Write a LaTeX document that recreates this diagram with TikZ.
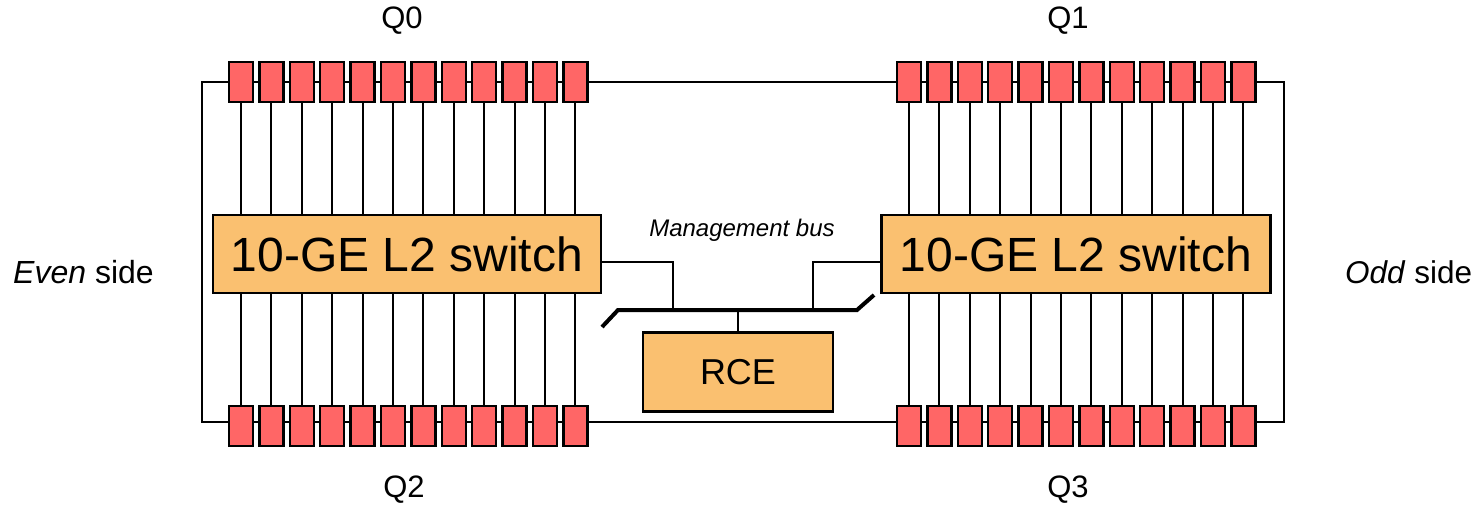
\documentclass[tikz,border=0pt]{standalone}
\usepackage{fontspec}
\setmainfont{Liberation Sans}
\usetikzlibrary{positioning}
\definecolor{portred}{RGB}{255,102,102}
\definecolor{swfill}{RGB}{250,192,112}
\tikzset{port/.style = {draw, fill = portred, line width = 2.5, inner sep = 0,
                        minimum width = 24, minimum height = 40}}
\tikzset{swbox/.style = {draw, fill = swfill, line width = 2.5, inner sep = 0}}
\tikzset{wire/.style = {line width = 2}}
\tikzset{bus/.style = {line width = 4}}

\begin{document}
\begin{tikzpicture}[x = 1pt, y = -1pt]
      \useasboundingbox (0, 0) rectangle (1478, 506);
      \foreach \i in {1, ..., 12} {
        \node [port] (q0-\i) at ({241 + 30.4*(\i - 1)}, 82) {};
        \node [port] (q2-\i) at ({241 + 30.4*(\i - 1)}, 426) {};
        \node [port] (q1-\i) at ({909 + 30.4*(\i - 1)}, 82) {};
        \node [port] (q3-\i) at ({909 + 30.4*(\i - 1)}, 426) {};
      }
      \foreach \i in {1, ..., 12} {
        \draw [wire] (q0-\i.south) -- (q2-\i.north);
        \draw [wire] (q1-\i.south) -- (q3-\i.north);
      }
      \foreach \i [evaluate = \i as \j using int(\i + 1)] in {1, ..., 11} {
        \draw [wire] (q0-\i.east) -- (q0-\j.west);
        \draw [wire] (q1-\i.east) -- (q1-\j.west);
        \draw [wire] ([yshift = 4pt]q2-\i.east) -- ([yshift = 4pt]q2-\j.west);
        \draw [wire] ([yshift = 4pt]q3-\i.east) -- ([yshift = 4pt]q3-\j.west);
      }
      % ring round both sides
      \coordinate (evenTop) at (202, 82);
      \coordinate (evenBot) at (202, 422);
      \coordinate (oddTop) at (1284, 82);
      \coordinate (oddBot) at (1284, 422);
      \draw [wire] (q0-1.west) -- (evenTop) -- (evenBot) -- ([yshift = 4pt]q2-1.west);
      \draw [wire] (q1-12.east) -- (oddTop) -- (oddBot) -- ([yshift = 4pt]q3-12.east);
      \draw [wire] (q0-12.east) -- (q1-1.west);
      \draw [wire] ([yshift = 4pt]q2-12.east) -- ([yshift = 4pt]q3-1.west);
      % switches and RCE
      \node [swbox, minimum width = 388pt, minimum height = 78pt,
             font = \fontsize{48}{58}\selectfont] (swL) at (407, 254) {10-GE L2 switch};
      \node [swbox, minimum width = 389pt, minimum height = 78pt,
             font = \fontsize{48}{58}\selectfont] (swR) at (1076, 254) {10-GE L2 switch};
      \node [swbox, minimum width = 190pt, minimum height = 79pt,
             font = \fontsize{36}{42}\selectfont] (rce) at (738, 372) {RCE};
      % management bus
      \coordinate (busL) at (602, 327);
      \coordinate (busLc) at (618, 310);
      \coordinate (busRc) at (857, 310);
      \coordinate (busR) at (874, 295);
      \coordinate (busA) at (673, 310);
      \coordinate (busB) at (813, 310);
      \coordinate (busC) at (738, 310);
      \draw [bus] (busL) -- (busLc) -- (busRc) -- (busR);
      \draw [wire] ([yshift = -8pt]swL.east) -| (busA);
      \draw [wire] ([yshift = -8pt]swR.west) -| (busB);
      \draw [wire] (busC) -- (rce.north);
      \node [font = \fontsize{24}{28}\selectfont\itshape] (mgmt) at (742, 230) {Management bus};
      % labels
      \node [font = \fontsize{31}{36}\selectfont] (q0lbl) at (402, 21) {Q0};
      \node [font = \fontsize{31}{36}\selectfont] (q1lbl) at (1068, 21) {Q1};
      \node [font = \fontsize{31}{36}\selectfont] (q2lbl) at (404, 490) {Q2};
      \node [font = \fontsize{31}{36}\selectfont] (q3lbl) at (1068, 490) {Q3};
      \node [font = \fontsize{32}{38}\selectfont, anchor = west, inner sep = 0] (even) at (13, 272) {\textit{Even} side};
      \node [font = \fontsize{31.5}{37}\selectfont, anchor = west, inner sep = 0] (odd) at (1345, 272) {\textit{Odd} side};
\end{tikzpicture}
\end{document}
